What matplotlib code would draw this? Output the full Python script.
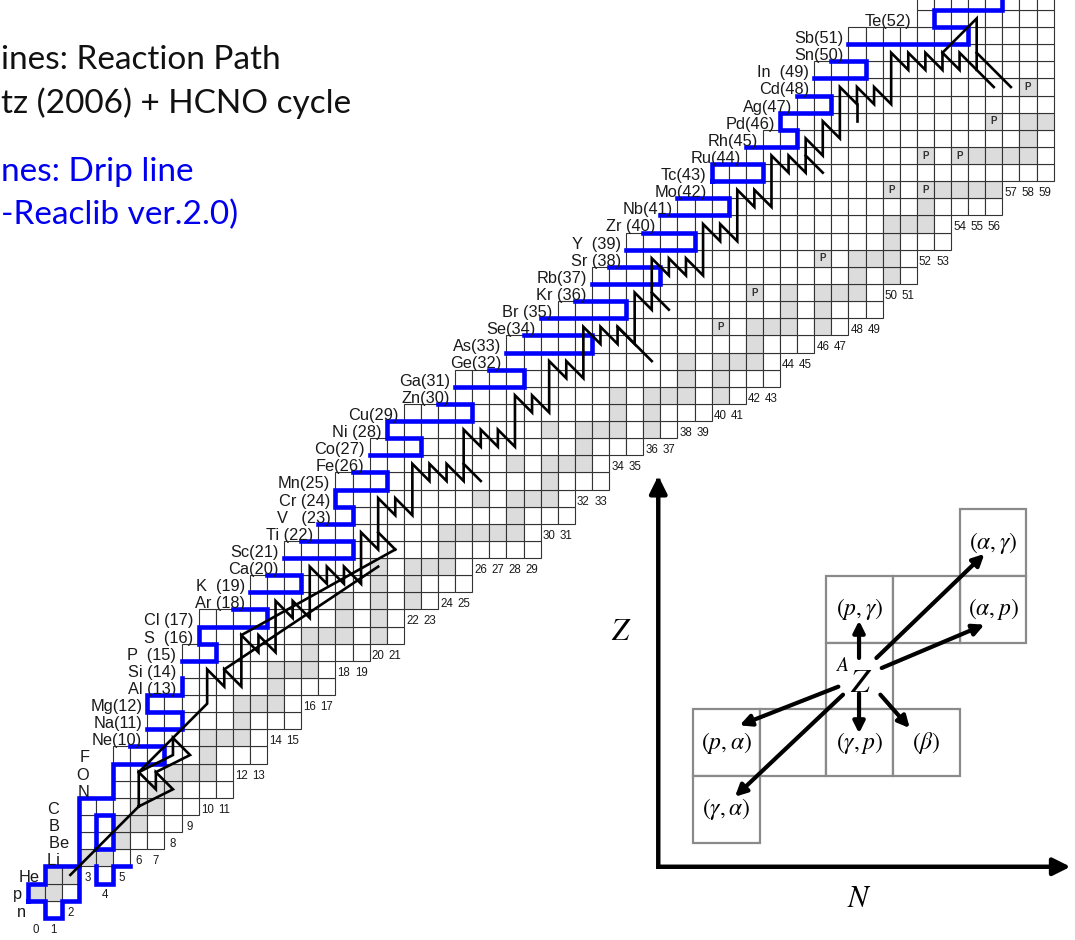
import matplotlib
matplotlib.use("Agg")
import matplotlib.pyplot as plt
from matplotlib.patches import Rectangle, FancyArrowPatch

plt.rcParams['font.family'] = ['Liberation Sans', 'DejaVu Sans']
plt.rcParams['mathtext.fontset'] = 'stix'

# ---------------- data ----------------
# element labels for Z = 0 .. 52 (Z=53 row is cut at the top)
elem_labels = ['n   ', 'p', 'He', 'Li   ', 'Be ', 'B   ', 'C   ', 'N    ', 'O    ', 'F    ',
               'Ne(10)', 'Na(11)', 'Mg(12)', 'Al (13)', 'Si (14)', 'P  (15)', 'S  (16)',
               'Cl (17)', 'Ar (18)', 'K  (19)', 'Ca(20)', 'Sc(21)', 'Ti (22)', 'V   (23)',
               'Cr (24)', 'Mn(25)', 'Fe(26)', 'Co(27)', 'Ni (28)', 'Cu(29)', 'Zn(30)',
               'Ga(31)', 'Ge(32)', 'As(33)', 'Se(34)', 'Br (35)', 'Kr (36)', 'Rb(37)',
               'Sr (38)', 'Y  (39)', 'Zr (40)', 'Nb(41)', 'Mo(42)', 'Tc(43)', 'Ru(44)',
               'Rh(45)', 'Pd(46)', 'Ag(47)', 'Cd(48)', 'In  (49)', 'Sn(50)', 'Sb(51)', 'Te(52)']

# first neutron number shown in each row, Z = 0 .. 53
row_nmin = [1, 0, 1, 3, 3, 3, 3, 5, 5, 5, 7, 7, 7, 9, 9, 9, 10, 10, 13, 13,
            15, 15, 17, 18, 18, 18, 20, 20, 21, 22, 25, 25, 28, 28, 30, 31, 33, 33, 35, 35,
            37, 38, 40, 40, 42, 43, 44, 45, 46, 46, 48, 48, 52, 52]

# row (Z) in which each neutron-number label N = 0 .. 59 is written
n_label_z = [-1, -1, 0, 2, 1, 2, 3, 3, 4, 5, 6, 6, 8, 8, 10, 10, 12, 12, 14, 14,
             15, 15, 17, 17, 18, 18, 20, 20, 20, 20, 22, 22, 24, 24, 26, 26, 27, 27, 28, 28,
             29, 29, 30, 30, 32, 32, 33, 33, 34, 34, 36, 36, 38, 38, 40, 40, 40, 42, 42, 42]

# stable isotopes (neutron numbers) per Z
stable = {1: [0, 1], 2: [1, 2], 3: [3, 4], 4: [5], 5: [5, 6], 6: [6, 7], 7: [7, 8],
          8: [8, 9, 10], 9: [10], 10: [10, 11, 12], 11: [12], 12: [12, 13, 14], 13: [14],
          14: [14, 15, 16], 15: [16], 16: [16, 17, 18, 20], 17: [18, 20], 18: [18, 20, 22],
          19: [20, 22], 20: [20, 22, 23, 24, 26, 28], 21: [24], 22: [24, 25, 26, 27, 28],
          23: [28], 24: [26, 28, 29, 30], 25: [30], 26: [28, 30, 31, 32], 27: [32],
          28: [30, 32, 33, 34, 36], 29: [34, 36], 30: [34, 36, 37, 38, 40], 31: [38, 40],
          32: [38, 40, 41, 42, 44], 33: [42], 34: [40, 42, 43, 44, 46, 48], 35: [44, 46],
          36: [42, 44, 46, 47, 48, 50], 37: [48, 50], 38: [46, 48, 49, 50], 39: [50],
          40: [50, 51, 52, 54, 56], 41: [52], 42: [50, 52, 53, 54, 55, 56, 58], 43: [],
          44: [52, 54, 55, 56, 57, 58, 60], 45: [58], 46: [56, 58, 59, 60, 62, 64],
          47: [60, 62], 48: [58, 60, 62, 63, 64], 49: [64], 50: [62, 64], 51: [70], 52: [68]}

# p-nuclei marked with "P"  (N, Z)
p_nuclei = [(40, 34), (42, 36), (46, 38), (50, 42), (52, 42), (52, 44), (54, 44), (56, 46), (58, 48)]

# proton drip line (cell-edge coordinates: N edge, Z edge)
drip_lines = [
    [(0, 1), (0, 2), (1, 2), (1, 3), (3, 3), (3, 1), (2, 1), (2, 0), (1, 0), (1, 1), (0, 1)],
    [(3, 3), (3, 7), (5, 7), (5, 9), (8, 9), (8, 10), (6, 10)],
    [(4, 4), (5, 4), (5, 6), (4, 6), (4, 4)],
    [(4, 3), (4, 2), (5, 2), (5, 3), (6, 3)],
    [(9, 14), (9, 13), (7, 13), (7, 12), (9, 12), (9, 11), (7, 11)],
    [(9, 15), (11, 15), (11, 16), (10, 16), (10, 17), (14, 17), (14, 18), (12, 18)],
    [(13, 19), (16, 19), (16, 20), (14, 20)],
    [(15, 21), (19, 21), (19, 22), (16, 22)],
    [(17, 23), (19, 23), (19, 24), (18, 24), (18, 25), (21, 25), (21, 26), (19, 26)],
    [(20, 27), (23, 27), (23, 28), (21, 28), (21, 29), (26, 29), (26, 30), (24, 30)],
    [(25, 31), (29, 31), (29, 32), (27, 32)],
    [(28, 33), (33, 33), (33, 34), (29, 34)],
    [(30, 35), (35, 35), (35, 36), (32, 36)],
    [(33, 37), (37, 37), (37, 38), (34, 38)],
    [(35, 39), (39, 39), (39, 40), (36, 40)],
    [(37, 41), (41, 41), (41, 42), (38, 42)],
    [(40, 43), (43, 43), (43, 44), (40, 44), (40, 43)],
    [(42, 45), (45, 45), (45, 46), (44, 46), (44, 47), (47, 47), (47, 48), (45, 48)],
    [(46, 49), (49, 49), (49, 50), (47, 50)],
    [(48, 51), (55, 51), (55, 52), (53, 52), (53, 53), (57, 53), (57, 54)],
]

# reaction path (N, Z of nuclei)
reaction_paths = [
    # triple alpha and hot CNO cycles
    [(2, 2), (6, 6)],
    [(6, 6), (6, 8), (7, 7), (7, 8), (8, 7), (6, 6)],
    [(6, 8), (8, 9), (8, 10), (9, 9), (7, 8)],
    # alpha-p process lines
    [(11, 14), (20, 20)],
    [(12, 16), (21, 21)],
    # main rp-process path
    [(6, 8), (8, 10), (10, 12), (10, 14), (11, 13), (11, 14), (12, 13), (12, 16), (13, 15),
     (13, 16), (14, 15), (14, 18), (15, 17), (15, 18), (16, 17), (16, 20), (17, 19),
     (17, 20), (18, 19), (18, 20), (19, 19), (19, 22), (20, 21), (20, 24), (21, 23),
     (21, 24), (22, 23), (22, 26), (23, 25), (23, 26), (24, 25), (24, 26), (25, 25),
     (25, 28), (26, 27), (26, 28), (27, 27), (27, 28), (28, 27), (28, 30), (29, 29),
     (29, 30), (30, 29), (30, 32), (31, 31), (31, 32), (32, 31), (32, 34), (33, 33),
     (33, 34), (34, 33), (34, 34), (35, 33), (35, 36), (36, 35), (36, 38), (37, 37),
     (37, 38), (38, 37), (38, 38), (39, 37), (39, 40), (40, 39), (40, 40), (41, 39),
     (41, 42), (42, 41), (42, 42), (43, 41), (43, 44), (44, 43), (44, 44), (45, 43),
     (45, 45), (46, 44), (46, 46), (47, 45), (47, 48), (48, 47), (48, 48), (49, 47),
     (49, 48), (50, 47), (50, 50), (51, 49), (51, 50), (52, 49), (52, 50), (53, 49),
     (53, 50), (54, 49), (54, 50), (56, 48)],
    # side branches
    [(20, 22), (21, 21)],
    [(25, 26), (26, 25)],
    [(34, 34), (36, 32)],
    [(36, 36), (37, 35)],
    [(45, 44), (46, 43)],
    [(48, 46), (48, 47)],
    [(53, 50), (55, 52), (55, 49)],
    [(55, 50), (57, 48)],
]

# inset: boxes (column, row offsets from the centre nucleus) and their labels
inset_boxes = [(2, 2), (2, 1), (0, 1), (1, 1), (0, 0), (-2, -1), (-1, -1), (0, -1), (1, -1), (-2, -2)]
inset_texts = {(2, 2): r'$(\alpha,\gamma)$', (2, 1): r'$(\alpha,p)$', (0, 1): r'$(p,\gamma)$',
               (-2, -1): r'$(p,\alpha)$', (0, -1): r'$(\gamma,p)$', (1, -1): r'$(\beta)$',
               (-2, -2): r'$(\gamma,\alpha)$'}
inset_arrows = [((-0.01, 0.27), (-0.01, 0.83)), ((-0.01, -0.26), (-0.01, -0.86)),
                ((0.25, 0.27), (1.87, 1.83)), ((0.33, 0.12), (1.87, 0.77)),
                ((0.31, -0.28), (0.75, -0.78)), ((-0.32, -0.16), (-1.80, -0.74)),
                ((-0.25, -0.28), (-1.87, -1.81))]

# ---------------- figure ----------------
W, H = 1075, 940
fig = plt.figure(figsize=(W / 100, H / 100), dpi=100)
ax = fig.add_axes([0, 0, 1, 1])
ax.set_xlim(-2.114, 60.75)
ax.set_ylim(-1.798, 53.08)
ax.axis('off')

clip = Rectangle((-5, -5), 64.0, 70, transform=ax.transData, visible=False)
ax.add_patch(clip)

grid_col = '#333333'
for z, nmin in enumerate(row_nmin):
    for n in range(nmin, len(n_label_z)):
        if z <= n_label_z[n]:
            continue
        face = '#dcdcdc' if n in stable.get(z, []) else 'white'
        r = Rectangle((n - 0.5, z - 0.5), 1, 1, facecolor=face, edgecolor=grid_col,
                      linewidth=0.8, zorder=1)
        r.set_clip_path(clip)
        ax.add_patch(r)

for n, z in p_nuclei:
    ax.text(n, z, 'P', ha='center', va='center', fontsize=7, color='#333333',
            fontweight='bold', zorder=2)

for z, lab in enumerate(elem_labels):
    ax.text(row_nmin[z] - 0.5 - 0.3, z - 0.17, lab, ha='right', va='center',
            fontsize=11.8, color='#1a1a1a', zorder=5)

for n, z in enumerate(n_label_z):
    ax.text(n, z - 0.2, str(n), ha='center', va='center', fontsize=8.3,
            color='#1a1a1a', zorder=5)

for line in drip_lines:
    xs = [p[0] - 0.5 for p in line]
    ys = [p[1] - 0.5 for p in line]
    ax.plot(xs, ys, color='#0000ff', lw=3.3, solid_capstyle='projecting',
            solid_joinstyle='miter', zorder=3)

for path in reaction_paths:
    xs = [p[0] for p in path]
    ys = [p[1] for p in path]
    ax.plot(xs, ys, color='black', lw=1.9, solid_joinstyle='miter', zorder=4)

# title text (cropped slide text)
fs_title = 24
fig.text(1 / W, 1 - 60 / H, 'ines: Reaction Path', fontsize=fs_title, family='Lato',
         va='center', ha='left', color='#111111')
fig.text(1 / W, 1 - 103 / H, 'tz (2006) + HCNO cycle', fontsize=fs_title, family='Lato',
         va='center', ha='left', color='#111111')
fig.text(1 / W, 1 - 172 / H, 'nes: Drip line', fontsize=fs_title, family='Lato',
         va='center', ha='left', color='#0000ee')
fig.text(1 / W, 1 - 215 / H, '-Reaclib ver.2.0)', fontsize=fs_title, family='Lato',
         va='center', ha='left', color='#0000ee')

# ---------------- inset ----------------
box = 66.7
cx, cy = 859.7, 676.0
x0, x1, y0, y1 = 600, 1075, 470, 940
ia = fig.add_axes([x0 / W, 1 - y1 / H, (x1 - x0) / W, (y1 - y0) / H])
ia.set_xlim((x0 - cx) / box, (x1 - cx) / box)
ia.set_ylim((cy - y1) / box, (cy - y0) / box)
ia.axis('off')
ia.patch.set_alpha(0)

for (i, j) in inset_boxes:
    ia.add_patch(Rectangle((i - 0.5, j - 0.5), 1, 1, facecolor='white', edgecolor='#8a8a8a',
                           linewidth=1.6, zorder=1))
    if (i, j) in inset_texts:
        ia.text(i, j, inset_texts[(i, j)], ha='center', va='center', fontsize=17, zorder=3)

ia.text(-0.27, 0.09, r'$^{A}$', ha='center', va='center', fontsize=20, zorder=3)
ia.text(0.03, -0.11, r'$Z$', ha='center', va='center', fontsize=24, zorder=3)

for (s, e) in inset_arrows:
    ia.add_patch(FancyArrowPatch(s, e, arrowstyle='-|>', mutation_scale=17, lw=3.0,
                                 color='black', shrinkA=0, shrinkB=0, zorder=4))

ax_o = (-3.02, -2.86)
ia.add_patch(FancyArrowPatch(ax_o, (-3.02, 3.0), arrowstyle='-|>', mutation_scale=26, lw=3.2,
                             color='black', shrinkA=0, shrinkB=0, capstyle='projecting'))
ia.add_patch(FancyArrowPatch(ax_o, (3.16, -2.86), arrowstyle='-|>', mutation_scale=26, lw=3.2,
                             color='black', shrinkA=0, shrinkB=0))
ia.text(-3.58, 0.66, r'$Z$', ha='center', va='center', fontsize=22)
ia.text(0.0, -3.35, r'$N$', ha='center', va='center', fontsize=22)

fig.savefig('out.png', dpi=100)
